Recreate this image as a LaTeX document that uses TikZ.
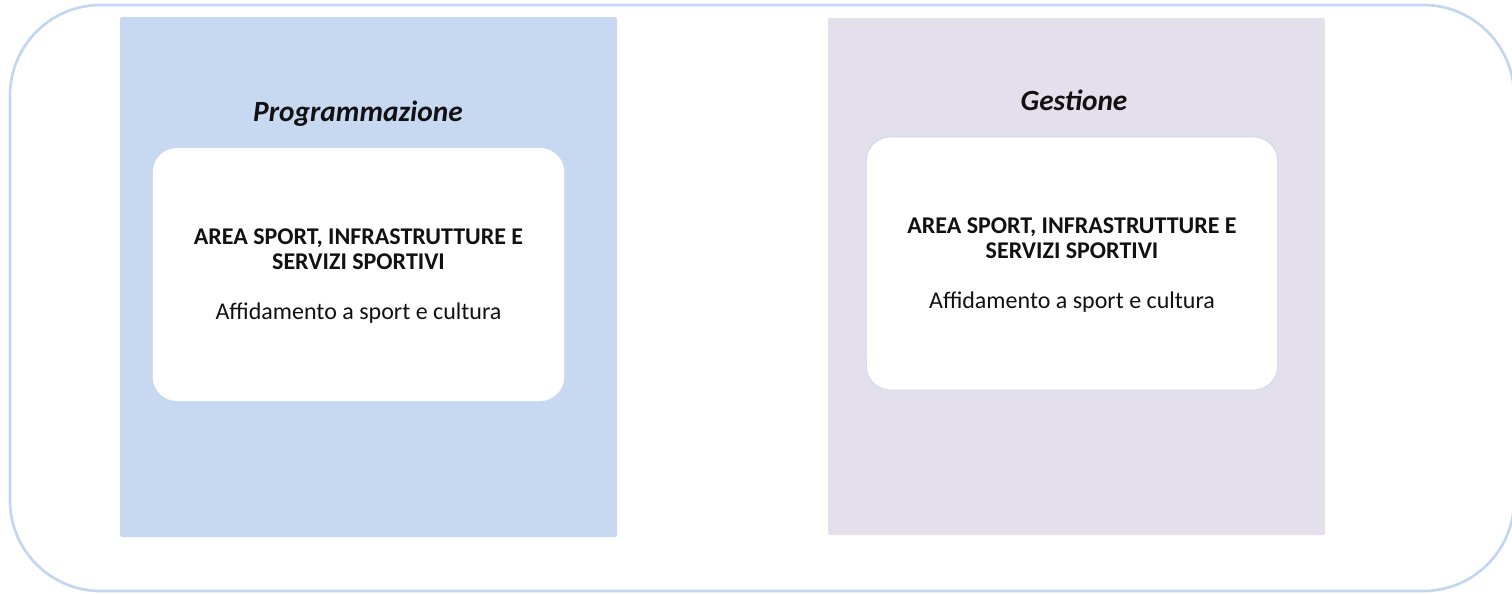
\documentclass[tikz,border=0pt]{standalone}
\usepackage{fontspec}
\setmainfont{Carlito}
\usepackage{tikz}
\usepackage{xcolor}
\usetikzlibrary{positioning}
\usetikzlibrary{calc}
\definecolor{framecol}{HTML}{C3D6F0}
\definecolor{progfill}{HTML}{C7D9F0}
\definecolor{gestfill}{HTML}{E4DFEC}
\definecolor{inkcol}{HTML}{111111}
\tikzset{
  % outer rounded frame round the whole picture
  frame/.style={draw=framecol, line width=2pt, rounded corners=68pt},
  % a coloured phase panel
  phase/.style={draw=none, fill=#1, rounded corners=1.5pt, minimum width=372.75pt},
  % the phase title
  phasetitle/.style={font=\fontsize{22}{26}\selectfont\bfseries\itshape, text=inkcol, inner sep=0pt},
  % the white rounded box with the area
  areabox/.style={fill=white, rounded corners=18pt, align=center, text=inkcol,
    font=\fontsize{18}{18.75}\selectfont, text depth=0pt,
    minimum width=308.5pt, minimum height=189.75pt, inner sep=0pt},
}

\begin{document}
\begin{tikzpicture}[x=0.75pt, y=-0.75pt]

\useasboundingbox (0,0) rectangle (1512,593);
\draw[frame] (10,5) rectangle (1514,591);

% Programmazione
\node[phase=progfill, minimum height=390pt] (prog) at (368.5,277) {};
\node[phasetitle] (progtitle) at (358,114) {Programmazione};
\node[areabox] (progarea) at (358.5,274.5)
  {\textbf{AREA SPORT, INFRASTRUTTURE E}\\\textbf{SERVIZI SPORTIVI}\\[18.75pt]
   Affidamento a sport e cultura};

% Gestione
\node[phase=gestfill, minimum height=387.75pt] (gest) at (1076.5,276.5) {};
\node[phasetitle] (gesttitle) at (1074,100) {Gestione};
\node[areabox, draw=framecol, line width=0.5pt] (gestarea) at (1072,263.5)
  {\textbf{AREA SPORT, INFRASTRUTTURE E}\\\textbf{SERVIZI SPORTIVI}\\[18.75pt]
   Affidamento a sport e cultura};

\end{tikzpicture}
\end{document}
